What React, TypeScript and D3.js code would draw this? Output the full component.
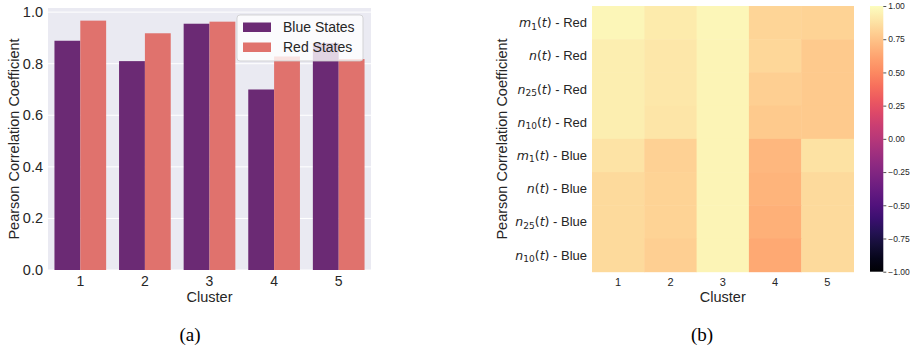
import React, { useEffect, useRef } from 'react';
import * as d3 from 'd3';

// bar chart (a)
const clusters = ['1', '2', '3', '4', '5'];
const groups = ['Blue States', 'Red States'];
const blueValues = [0.889, 0.81, 0.955, 0.70, 0.88];
const redValues = [0.967, 0.918, 0.963, 0.828, 0.818];
const barTicks = [0, 0.2, 0.4, 0.6, 0.8, 1.0];

// heatmap (b): rows top to bottom, columns = clusters
const heatRows = [
  { v: 'm', sub: '1', side: 'Red' },
  { v: 'n', sub: '', side: 'Red' },
  { v: 'n', sub: '25', side: 'Red' },
  { v: 'n', sub: '10', side: 'Red' },
  { v: 'm', sub: '1', side: 'Blue' },
  { v: 'n', sub: '', side: 'Blue' },
  { v: 'n', sub: '25', side: 'Blue' },
  { v: 'n', sub: '10', side: 'Blue' },
];
const heatValues = [
  [0.967, 0.918, 0.963, 0.828, 0.818],
  [0.93, 0.90, 0.96, 0.83, 0.78],
  [0.935, 0.90, 0.96, 0.80, 0.78],
  [0.93, 0.895, 0.96, 0.78, 0.775],
  [0.889, 0.81, 0.955, 0.70, 0.88],
  [0.85, 0.82, 0.96, 0.68, 0.85],
  [0.85, 0.815, 0.96, 0.67, 0.85],
  [0.845, 0.80, 0.96, 0.64, 0.85],
];
const cbarTicks = [1, 0.75, 0.5, 0.25, 0, -0.25, -0.5, -0.75, -1];

const TEXT = '#262626';
const SANS = '"Liberation Sans", Arial, sans-serif';
const MATH = '"DejaVu Sans", sans-serif';

const App = () => {
  const svgRef = useRef<SVGSVGElement>(null);

  useEffect(() => {
    const svg = d3.select(svgRef.current);
    svg.selectAll('*').remove();

    // ---------- (a) grouped bars ----------
    const a = { left: 48, right: 371, top: 8, bottom: 270 };
    const x = d3.scaleBand().domain(clusters).range([a.left, a.right]).padding(0);
    const xSub = d3.scaleBand().domain(groups).range([x.bandwidth() * 0.1, x.bandwidth() * 0.9]);
    const y = d3.scaleLinear().domain([0, 1.016]).range([a.bottom, a.top]);
    const barColors = d3.scaleOrdinal<string>().domain(groups).range(['#6b2a74', '#e0726d']);

    const ga = svg.append('g');
    ga.append('rect')
      .attr('x', a.left).attr('y', a.top)
      .attr('width', a.right - a.left).attr('height', a.bottom - a.top)
      .attr('fill', '#eaeaf2');

    ga.append('g')
      .selectAll('line')
      .data(barTicks)
      .join('line')
      .attr('x1', a.left).attr('x2', a.right)
      .attr('y1', d => y(d)).attr('y2', d => y(d))
      .attr('stroke', '#ffffff').attr('stroke-width', 1);

    const series = [blueValues, redValues];
    groups.forEach((g, gi) => {
      ga.append('g')
        .selectAll('rect')
        .data(clusters)
        .join('rect')
        .attr('x', c => (x(c) as number) + (xSub(g) as number))
        .attr('width', xSub.bandwidth())
        .attr('y', (_c, i) => y(series[gi][i]))
        .attr('height', (_c, i) => y(0) - y(series[gi][i]))
        .attr('fill', barColors(g));
    });

    ga.append('g')
      .selectAll('text')
      .data(barTicks)
      .join('text')
      .attr('x', a.left - 5)
      .attr('y', d => y(d) + 5)
      .attr('text-anchor', 'end')
      .attr('font-family', SANS).attr('font-size', 14.5).attr('fill', TEXT)
      .text(d => d.toFixed(1));

    ga.append('g')
      .selectAll('text')
      .data(clusters)
      .join('text')
      .attr('x', c => (x(c) as number) + x.bandwidth() / 2)
      .attr('y', 286)
      .attr('text-anchor', 'middle')
      .attr('font-family', SANS).attr('font-size', 14).attr('fill', TEXT)
      .text(c => c);

    ga.append('text')
      .attr('x', (a.left + a.right) / 2).attr('y', 302)
      .attr('text-anchor', 'middle')
      .attr('font-family', SANS).attr('font-size', 14.5).attr('fill', TEXT)
      .text('Cluster');

    ga.append('text')
      .attr('transform', `translate(19,139) rotate(-90)`)
      .attr('text-anchor', 'middle')
      .attr('font-family', SANS).attr('font-size', 14.5).attr('fill', TEXT)
      .text('Pearson Correlation Coefficient');

    // legend
    const lg = ga.append('g');
    lg.append('rect')
      .attr('x', 237).attr('y', 15).attr('width', 126).attr('height', 46).attr('rx', 3)
      .attr('fill', '#ffffff').attr('fill-opacity', 0.8)
      .attr('stroke', '#cccccc').attr('stroke-opacity', 0.8);
    groups.forEach((g, i) => {
      lg.append('rect')
        .attr('x', 243).attr('y', 22.5 + i * 20).attr('width', 28).attr('height', 9.5)
        .attr('fill', barColors(g));
      lg.append('text')
        .attr('x', 283).attr('y', 32 + i * 20)
        .attr('font-family', SANS).attr('font-size', 14).attr('fill', TEXT)
        .text(g);
    });

    // ---------- (b) heatmap ----------
    const h = { left: 592, right: 853.5, top: 6, bottom: 271.7 };
    const hx = d3.scaleBand().domain(clusters).range([h.left, h.right]);
    const hy = d3.scaleBand<number>().domain(d3.range(heatRows.length)).range([h.top, h.bottom]);
    const color = d3.scaleSequential(d3.interpolateMagma).domain([-1, 1]);

    const gb = svg.append('g');
    heatValues.forEach((row, ri) => {
      gb.append('g')
        .selectAll('rect')
        .data(row)
        .join('rect')
        .attr('x', (_v, ci) => hx(clusters[ci]) as number)
        .attr('y', hy(ri) as number)
        .attr('width', hx.bandwidth() + 0.5)
        .attr('height', hy.bandwidth() + 0.5)
        .attr('fill', v => color(v));
    });

    gb.append('g')
      .selectAll('text')
      .data(clusters)
      .join('text')
      .attr('x', c => (hx(c) as number) + hx.bandwidth() / 2)
      .attr('y', 285.7)
      .attr('text-anchor', 'middle')
      .attr('font-family', SANS).attr('font-size', 11).attr('fill', TEXT)
      .text(c => c);

    gb.append('text')
      .attr('x', (h.left + h.right) / 2).attr('y', 302)
      .attr('text-anchor', 'middle')
      .attr('font-family', SANS).attr('font-size', 14.5).attr('fill', TEXT)
      .text('Cluster');

    gb.append('text')
      .attr('transform', `translate(507,139) rotate(-90)`)
      .attr('text-anchor', 'middle')
      .attr('font-family', SANS).attr('font-size', 14.5).attr('fill', TEXT)
      .text('Pearson Correlation Coefficient');

    heatRows.forEach((r, ri) => {
      const t = gb.append('text')
        .attr('x', 587)
        .attr('y', (hy(ri) as number) + hy.bandwidth() / 2 + 4.5)
        .attr('text-anchor', 'end')
        .attr('font-size', 13).attr('fill', TEXT);
      t.append('tspan').attr('font-family', MATH).attr('font-style', 'italic').attr('font-size', 12.5).text(r.v);
      if (r.sub) {
        t.append('tspan').attr('font-family', MATH).attr('font-size', 9).attr('dy', 2.5).text(r.sub);
        t.append('tspan').attr('font-family', MATH).attr('font-size', 12.5).attr('dy', -2.5).text('(');
      } else {
        t.append('tspan').attr('font-family', MATH).attr('font-size', 12.5).text('(');
      }
      t.append('tspan').attr('font-family', MATH).attr('font-style', 'italic').attr('font-size', 12.5).text('t');
      t.append('tspan').attr('font-family', MATH).attr('font-size', 12.5).text(')');
      t.append('tspan').attr('font-family', SANS).text(` - ${r.side}`);
    });

    // colorbar
    const cb = { x: 870, w: 13.3, top: 6, bottom: 271.7 };
    const cy = d3.scaleLinear().domain([-1, 1]).range([cb.bottom, cb.top]);
    const defs = svg.append('defs');
    const grad = defs.append('linearGradient')
      .attr('id', 'magma').attr('x1', 0).attr('y1', 1).attr('x2', 0).attr('y2', 0);
    d3.range(0, 1.0001, 0.05).forEach(t => {
      grad.append('stop').attr('offset', t).attr('stop-color', d3.interpolateMagma(t));
    });
    gb.append('rect')
      .attr('x', cb.x).attr('y', cb.top).attr('width', cb.w).attr('height', cb.bottom - cb.top)
      .attr('fill', 'url(#magma)');

    const cax = gb.append('g').attr('transform', `translate(${cb.x + cb.w},0)`)
      .call(d3.axisRight(cy).tickValues(cbarTicks).tickSize(3).tickPadding(2)
        .tickFormat(d => d3.format('.2f')(d as number).replace('-', '\u2212')));
    cax.select('.domain').remove();
    cax.selectAll('line').attr('stroke', TEXT).attr('stroke-width', 0.8);
    cax.selectAll('text').attr('font-family', SANS).attr('font-size', 8.5).attr('fill', TEXT);

    // captions
    svg.append('text')
      .attr('x', 190).attr('y', 341)
      .attr('text-anchor', 'middle')
      .attr('font-family', '"Liberation Serif", "DejaVu Serif", serif').attr('font-size', 19).attr('fill', '#000')
      .text('(a)');
    svg.append('text')
      .attr('x', 702).attr('y', 341)
      .attr('text-anchor', 'middle')
      .attr('font-family', '"Liberation Serif", "DejaVu Serif", serif').attr('font-size', 19).attr('fill', '#000')
      .text('(b)');
  }, []);

  return (
    <div style={{ position: 'absolute', left: 0, top: 0, background: '#fff' }}>
      <svg ref={svgRef} width={913} height={352} style={{ display: 'block' }} />
    </div>
  );
};

export default App;
